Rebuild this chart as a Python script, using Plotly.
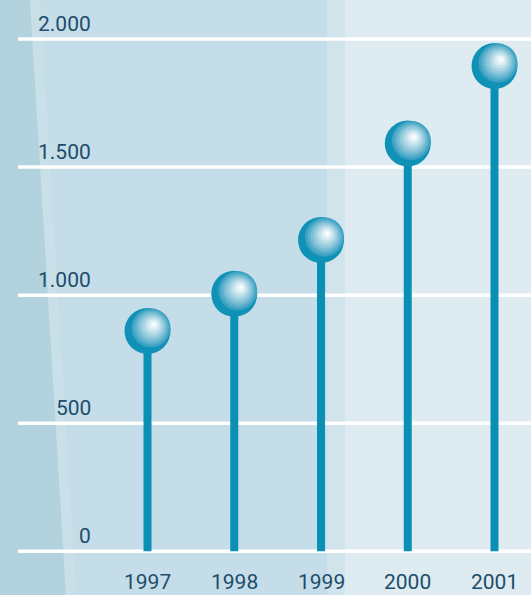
import plotly.graph_objects as go

# ---- data ----
years = [1997, 1998, 1999, 2000, 2001]
values = [860, 1005, 1215, 1592, 1895]
y_ticks = [0, 500, 1000, 1500, 2000]
y_tick_labels = ["0", "500", "1.000", "1.500", "2.000"]
x_tick_labels = ["1997", "1998", "1999", "2000", "2001"]

W, H = 531, 595
FONT = "Roboto, Liberation Sans, sans-serif"
TXT = "#1c4d6b"
STEM = "#0a90b5"

fig = go.Figure()

# stems
sx, sy = [], []
for x, v in zip(years, values):
    sx += [x, x, None]
    sy += [0, v, None]
fig.add_trace(go.Scatter(x=sx, y=sy, mode="lines",
                         line=dict(color=STEM, width=8), hoverinfo="skip",
                         showlegend=False))
# ball base
fig.add_trace(go.Scatter(x=years, y=values, mode="markers",
                         marker=dict(size=46, color="#0f92b6", line=dict(width=0)),
                         showlegend=False))

shapes = []
def P(px):
    return px / W
# background panels
shapes.append(dict(type="rect", xref="paper", yref="paper", x0=P(327), x1=P(347),
                   y0=0, y1=1, fillcolor="#d1e4ec", line_width=0, layer="below"))
shapes.append(dict(type="rect", xref="paper", yref="paper", x0=P(345), x1=1,
                   y0=0, y1=1, fillcolor="#deebf1", line_width=0, layer="below"))
shapes.append(dict(type="path", xref="paper", yref="paper",
                   path=f"M 0,1 L {P(40)},1 L {P(76)},0 L 0,0 Z",
                   fillcolor="#c9e0e9", line_width=0, layer="below"))
shapes.append(dict(type="path", xref="paper", yref="paper",
                   path=f"M 0,1 L {P(30)},1 L {P(66)},0 L 0,0 Z",
                   fillcolor="#b2d2de", line_width=0, layer="below"))
# gridlines
for t in y_ticks:
    shapes.append(dict(type="line", xref="paper", yref="y", x0=P(18), x1=1,
                       y0=t, y1=t, line=dict(color="white", width=3.5), layer="below"))

# ball highlight rings
ring_colors = ["#3da2c3", "#5aafcc", "#76bcd4", "#90c8dc", "#a9d4e3",
               "#c1e0ea", "#d7ebf2", "#ebf5f9", "#ffffff"]
n = len(ring_colors)
for x, v in zip(years, values):
    for i, c in enumerate(ring_colors):
        t = i / (n - 1)
        dx = 3.5 + 3.0 * t
        dy = 3.0 + 3.7 * t
        r = 19.5 * (1 - t) + 1.5 * t
        shapes.append(dict(type="circle", xref="x", yref="y",
                           xsizemode="pixel", ysizemode="pixel",
                           xanchor=x, yanchor=v,
                           x0=dx - r, x1=dx + r, y0=dy - r, y1=dy + r,
                           fillcolor=c, line_width=0, layer="above"))

annotations = []
for t, lab in zip(y_ticks, y_tick_labels):
    annotations.append(dict(xref="paper", yref="y", x=P(93), y=t, text=lab,
                            xanchor="right", yanchor="middle", yshift=15,
                            showarrow=False, font=dict(family=FONT, size=21, color=TXT)))
for x, lab in zip(years, x_tick_labels):
    annotations.append(dict(xref="x", yref="paper", x=x, y=0, text=lab,
                            xanchor="center", yanchor="bottom", yshift=-1,
                            showarrow=False, font=dict(family=FONT, size=21, color=TXT)))

px_per_unit = 0.25615
zero_px = 551.3
px_per_year = 86.75
x0_px = 147.5
fig.update_layout(
    width=W, height=H,
    margin=dict(l=0, r=0, t=0, b=0),
    paper_bgcolor="#c5dde8", plot_bgcolor="#c5dde8",
    xaxis=dict(visible=False, range=[1997 - x0_px / px_per_year,
                                     1997 + (W - x0_px) / px_per_year], fixedrange=True),
    yaxis=dict(visible=False, range=[-(H - zero_px) / px_per_unit, zero_px / px_per_unit],
               fixedrange=True),
    shapes=shapes, annotations=annotations, showlegend=False,
)
fig.write_html("out.html", config={"displayModeBar": False})
